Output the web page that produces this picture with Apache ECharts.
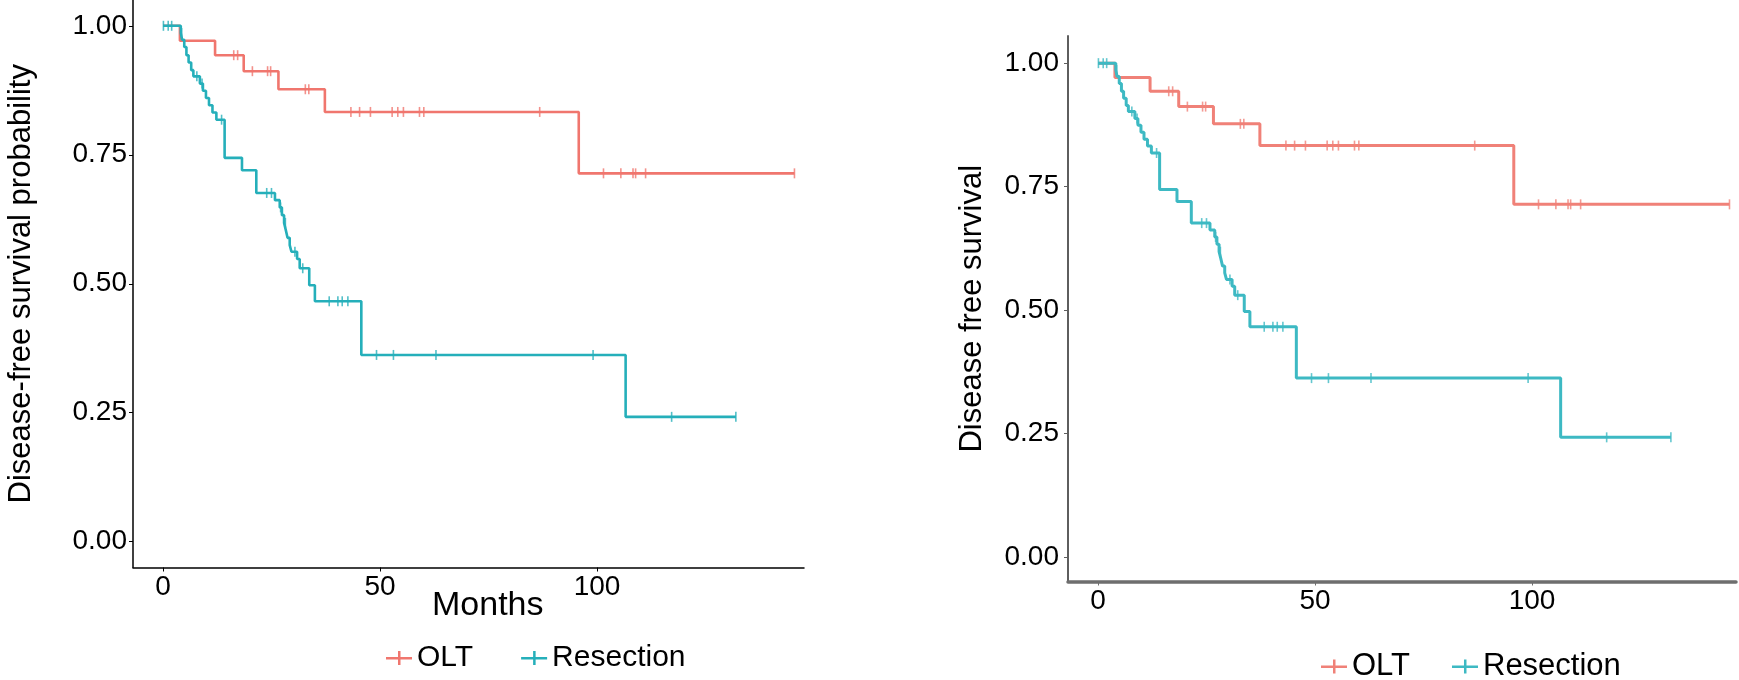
<!DOCTYPE html>
<html><head><meta charset="utf-8">
<script src="https://cdn.jsdelivr.net/npm/echarts@6/dist/echarts.min.js"></script>
<style>html,body{margin:0;padding:0;background:#fff}#c{width:1739px;height:680px}</style>
</head><body><div id="c"></div>
<script>
const xTicks = [0, 50, 100];
const yTicks = [0, 0.25, 0.5, 0.75, 1];
const groups = ['OLT', 'Resection'];

const oltEventTimes = [3.9, 12.0, 18.6, 26.6, 37.3, 95.8];
const oltEventSurv  = [0.971, 0.943, 0.912, 0.877, 0.833, 0.714];
const oltCensorTimes = [16.3, 17.2, 20.6, 24.1, 24.8, 32.8, 33.6, 43.3, 45.3, 47.8, 52.8, 54.1, 55.4, 59.1, 60.1, 86.8, 101.5, 105.5, 108.3, 108.9, 111.2, 145.5];
const oltLastTime = 145.5;

const resEventTimes = [4.1, 4.4, 4.9, 5.4, 5.9, 6.5, 7.0, 8.5, 9.2, 9.9, 10.6, 11.4, 12.3, 14.2, 18.2, 21.5, 25.8, 26.9, 27.4, 27.9, 28.3, 28.7, 29.2, 29.6, 30.9, 31.5, 33.7, 35.0, 45.7, 106.6];
const resEventSurv  = [0.986, 0.973, 0.959, 0.943, 0.929, 0.914, 0.902, 0.888, 0.874, 0.860, 0.846, 0.832, 0.818, 0.744, 0.720, 0.676, 0.662, 0.648, 0.633, 0.618, 0.604, 0.589, 0.575, 0.562, 0.548, 0.530, 0.497, 0.466, 0.362, 0.242];
const resCensorTimes = [0.1, 1.2, 2.0, 4.3, 7.8, 9.0, 13.5, 23.9, 25.0, 27.1, 28.2, 30.4, 32.2, 38.3, 40.3, 41.3, 42.6, 49.2, 53.1, 62.9, 99.1, 117.2, 132.0];
const resLastTime = 132.0;

function stepData(times, surv, last) {
  const d = [[0, 1]];
  times.forEach((t, i) => d.push([t, surv[i]]));
  d.push([last, surv[surv.length - 1]]);
  return d;
}
function survAt(times, surv, t) {
  let s = 1;
  for (let i = 0; i < times.length; i++) if (times[i] <= t) s = surv[i];
  return s;
}
function censorData(ct, times, surv) { return ct.map(t => [t, survAt(times, surv, t)]); }

const FONT = 'Liberation Sans, Arial, Helvetica, sans-serif';
const colsL = ['#F0766E', '#25AFBA'];
const colsR = ['#F08178', '#3DB9C3'];
const legendIcon = 'path://M0,6 L26,6 L26,8.5 L0,8.5 Z M12,0 L14.5,0 L14.5,14 L12,14 Z';

function series(gi, cols, lw) {
  const out = [];
  const sets = [
    [oltEventTimes, oltEventSurv, oltCensorTimes, oltLastTime],
    [resEventTimes, resEventSurv, resCensorTimes, resLastTime]
  ];
  sets.forEach((s, k) => {
    out.push({
      name: groups[k], type: 'line', step: 'end', xAxisIndex: gi, yAxisIndex: gi,
      data: stepData(s[0], s[1], s[3]), showSymbol: false, silent: true,
      lineStyle: { color: cols[k], width: lw }, itemStyle: { color: cols[k] }, z: 3
    });
    out.push({
      name: groups[k] + ' censored', type: 'scatter', xAxisIndex: gi, yAxisIndex: gi,
      data: censorData(s[2], s[0], s[1]), symbol: 'rect', symbolSize: [1.6, 10],
      itemStyle: { color: cols[k] }, silent: true, z: 4
    });
  });
  return out;
}

function xAxis(gi, min, max, axisCol, axisW, labMargin) {
  return {
    type: 'value', gridIndex: gi, min: min, max: max,
    axisLine: { show: true, onZero: false, lineStyle: { color: axisCol, width: axisW } },
    axisTick: { show: true, length: 4, lineStyle: { color: axisCol, width: 1 }, customValues: xTicks },
    axisLabel: { customValues: xTicks, color: '#000', fontSize: 28, fontFamily: FONT, margin: labMargin },
    splitLine: { show: false }
  };
}
function yAxis(gi, axisCol, axisW, name, nameGap, labMargin) {
  return {
    type: 'value', gridIndex: gi, min: -0.05, max: 1.05,
    axisLine: { show: true, onZero: false, lineStyle: { color: axisCol, width: axisW } },
    axisTick: { show: true, length: 4, lineStyle: { color: axisCol, width: 1 }, customValues: yTicks },
    axisLabel: { customValues: yTicks, color: '#000', fontSize: 28, fontFamily: FONT, margin: labMargin,
      formatter: v => v.toFixed(2) },
    splitLine: { show: false },
    name: name, nameLocation: 'middle', nameGap: nameGap,
    nameTextStyle: { color: '#000', fontSize: 31, fontFamily: FONT }
  };
}

const chart = echarts.init(document.getElementById('c'), null, { renderer: 'canvas' });
chart.setOption({
  animation: false,
  backgroundColor: '#fff',
  grid: [
    { left: 133, top: 0, width: 671, height: 567.5 },
    { left: 1068, top: 36, width: 668, height: 545.5 }
  ],
  xAxis: [
    xAxis(0, -6.91, 147.7, '#000', 1.5, 6),
    xAxis(1, -6.91, 147.0, '#6e6e6e', 3.5, 6)
  ],
  yAxis: [
    yAxis(0, '#000', 1.5, 'Disease-free survival probability', 96, 6),
    {
      ...yAxis(1, '#5e5e5e', 2, 'Disease free survival', 80, 9),
      min: -0.05, max: 1.055
    }
  ],
  legend: [
    { left: 381, top: 638, itemGap: 48, itemWidth: 26, itemHeight: 14, icon: legendIcon,
      data: groups.map((g, i) => ({ name: g, itemStyle: { color: colsL[i] } })),
      textStyle: { fontSize: 30, fontFamily: FONT, color: '#000' }, selectedMode: false },
    { left: 1316, top: 646, itemGap: 42, itemWidth: 26, itemHeight: 14, icon: legendIcon,
      data: groups.map((g, i) => ({ name: g, itemStyle: { color: colsR[i] } })),
      textStyle: { fontSize: 31, fontFamily: FONT, color: '#000' }, selectedMode: false }
  ],
  graphic: [
    { type: 'text', left: 432, top: 589, style: { text: 'Months', fontSize: 34, fontFamily: FONT, fill: '#000' } }
  ],
  series: [].concat(series(0, colsL, 2.6), series(1, colsR, 3))
});
</script></body></html>
